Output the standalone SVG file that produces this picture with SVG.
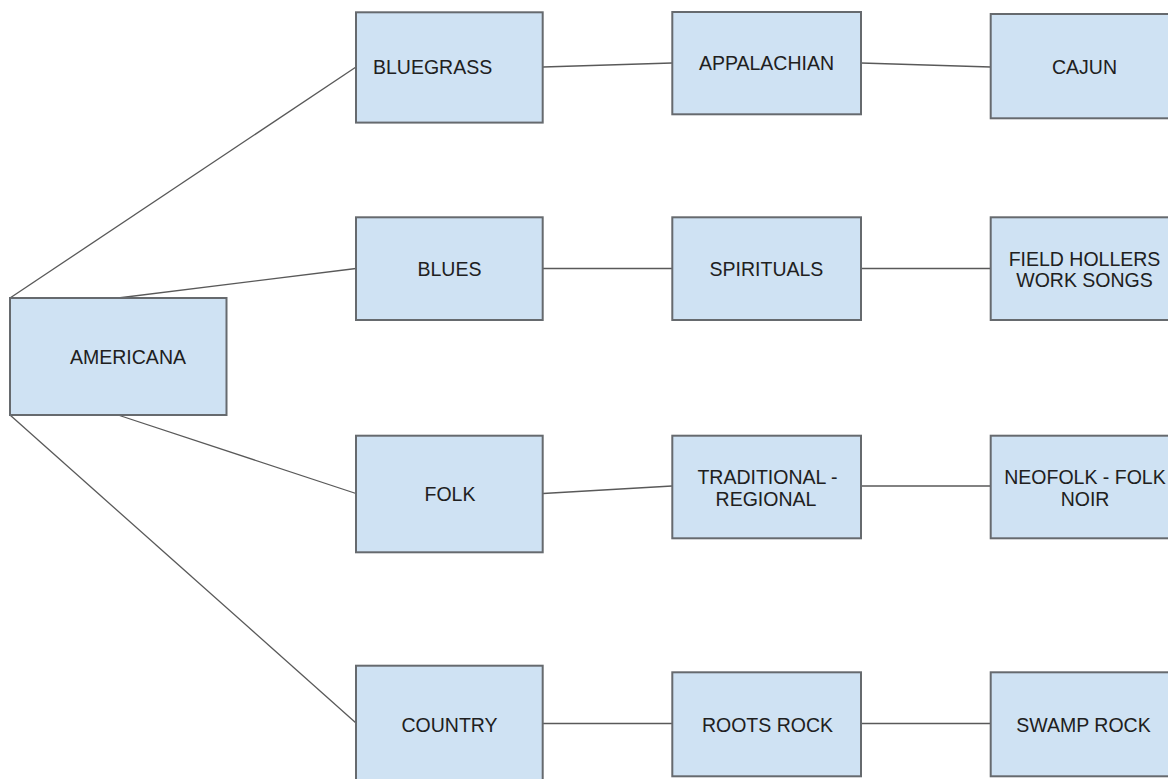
<svg xmlns="http://www.w3.org/2000/svg" width="1168" height="779" viewBox="0 0 1168 779">
<style>
.box{fill:#cfe2f3;stroke:#666a6e;stroke-width:2}
.lbl{font-family:"Liberation Sans",Arial,sans-serif;font-size:19.5px;fill:#202020;text-anchor:middle}
.c{stroke:#595959;stroke-width:1.3;fill:none}
</style>
<rect width="1168" height="779" fill="#ffffff"/>
<g id="connectors">
<line class="c" x1="10" y1="298" x2="356" y2="67"/>
<line class="c" x1="118" y1="298" x2="356" y2="268.5"/>
<line class="c" x1="118" y1="415" x2="356" y2="493.5"/>
<line class="c" x1="10" y1="415" x2="356" y2="723"/>
<line class="c" x1="543" y1="67" x2="672" y2="63"/>
<line class="c" x1="861" y1="63" x2="990.7" y2="67"/>
<line class="c" x1="543" y1="268.5" x2="672" y2="268.5"/>
<line class="c" x1="861" y1="268.5" x2="990.7" y2="268.5"/>
<line class="c" x1="543" y1="493.5" x2="672" y2="486"/>
<line class="c" x1="861" y1="486" x2="990.7" y2="486"/>
<line class="c" x1="543" y1="723.5" x2="672" y2="723.5"/>
<line class="c" x1="861" y1="723.5" x2="990.7" y2="723.5"/>
</g>
<g id="americana"><rect class="box" x="10" y="298" width="216.5" height="117"/><text class="lbl" x="128" y="363.5">AMERICANA</text></g>
<g id="bluegrass"><rect class="box" x="356" y="12.3" width="186.7" height="110.3"/><text class="lbl" x="373" y="74" style="text-anchor:start">BLUEGRASS</text></g>
<g id="appalachian"><rect class="box" x="672.3" y="12" width="188.7" height="102.3"/><text class="lbl" x="766.5" y="70">APPALACHIAN</text></g>
<g id="cajun"><rect class="box" x="990.7" y="14" width="190" height="104.3"/><text class="lbl" x="1084.5" y="73.5">CAJUN</text></g>
<g id="blues"><rect class="box" x="356" y="217.3" width="186.7" height="102.7"/><text class="lbl" x="449.5" y="276">BLUES</text></g>
<g id="spirituals"><rect class="box" x="672.3" y="217.3" width="188.7" height="102.7"/><text class="lbl" x="766.5" y="276">SPIRITUALS</text></g>
<g id="field-hollers"><rect class="box" x="990.7" y="217.3" width="190" height="102.7"/><text class="lbl" x="1084.5" y="266">FIELD HOLLERS</text><text class="lbl" x="1084.5" y="287">WORK SONGS</text></g>
<g id="folk"><rect class="box" x="356" y="435.7" width="186.7" height="116.6"/><text class="lbl" x="450" y="500.7">FOLK</text></g>
<g id="traditional"><rect class="box" x="672.3" y="435.7" width="188.7" height="102.6"/><text class="lbl" x="767.5" y="483.5">TRADITIONAL -</text><text class="lbl" x="766" y="506">REGIONAL</text></g>
<g id="neofolk"><rect class="box" x="990.7" y="435.7" width="190" height="102.6"/><text class="lbl" x="1085" y="483.5">NEOFOLK - FOLK</text><text class="lbl" x="1085" y="506">NOIR</text></g>
<g id="country"><rect class="box" x="356" y="665.7" width="186.7" height="125"/><text class="lbl" x="449.5" y="731.5">COUNTRY</text></g>
<g id="roots-rock"><rect class="box" x="672.3" y="672.3" width="188.7" height="104"/><text class="lbl" x="767.5" y="731.5">ROOTS ROCK</text></g>
<g id="swamp-rock"><rect class="box" x="990.7" y="672.3" width="190" height="104"/><text class="lbl" x="1083.5" y="731.5">SWAMP ROCK</text></g>
</svg>
